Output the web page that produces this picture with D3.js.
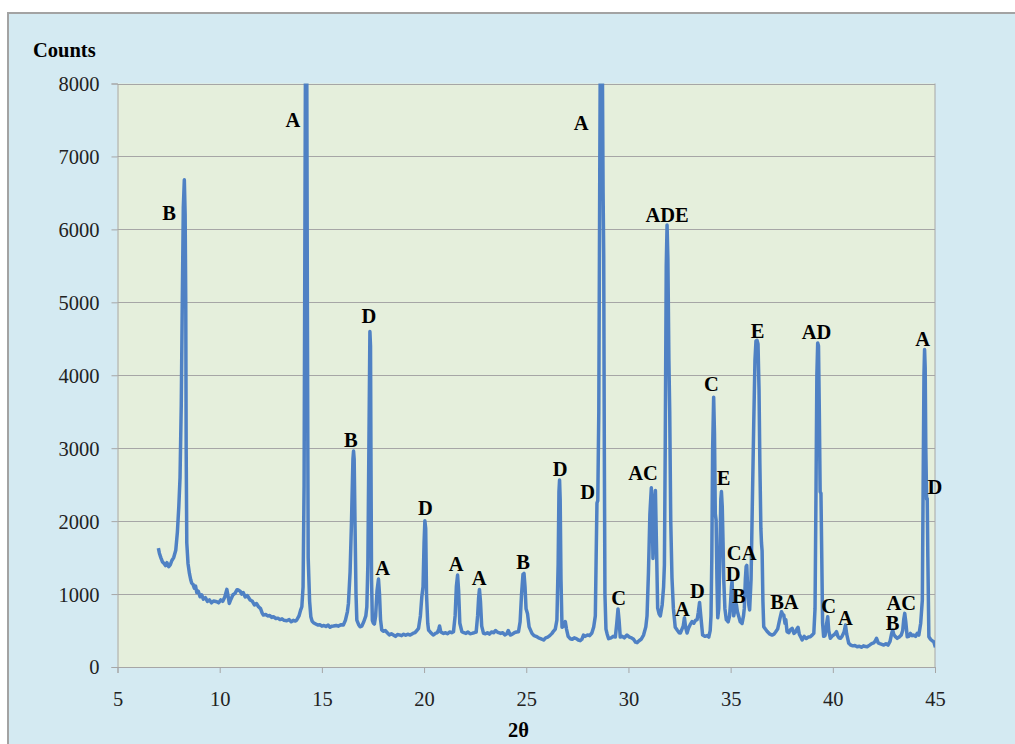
<!DOCTYPE html>
<html>
<head>
<meta charset="utf-8">
<script src="https://cdn.jsdelivr.net/npm/d3@7"></script>
<style>
  html, body { margin: 0; padding: 0; background: #ffffff; }
  svg { display: block; }
</style>
</head>
<body>
<svg id="chart" width="1015" height="744"></svg>
<script>
// ---------------- DATA ----------------
const twoTheta = [
  7.00,7.05,7.12,7.20,7.28,7.35,7.42,7.50,7.58,7.66,7.75,7.85,7.93,8.00,8.06,8.12,8.17,8.22,8.27,8.31,8.34,8.36,8.39,8.45,8.52,8.58,8.63,8.70,8.76,8.82,8.88,8.95,
  9.04,9.12,9.20,9.30,9.40,9.50,9.60,9.70,9.86,9.95,10.05,10.15,10.25,10.35,10.42,10.47,10.55,10.65,10.75,10.85,10.91,11.00,11.08,11.15,11.25,11.35,11.49,11.60,11.70,11.80,11.90,
  12.00,12.08,12.14,12.25,12.35,12.45,12.55,12.63,12.75,12.85,12.95,13.05,13.15,13.28,13.40,13.50,13.60,13.70,13.77,13.88,13.96,14.02,14.08,14.13,14.17,14.21,14.25,14.29,14.33,14.40,14.46,14.52,14.59,14.70,14.80,14.90,
  15.00,15.10,15.20,15.30,15.40,15.50,15.57,15.70,15.80,15.95,16.05,16.15,16.25,16.30,16.38,16.45,16.52,16.55,16.58,16.62,16.67,16.71,16.80,16.87,16.95,
  17.05,17.15,17.20,17.25,17.30,17.35,17.38,17.40,17.43,17.47,17.52,17.57,17.63,17.70,17.77,17.82,17.87,17.93,18.00,18.10,18.20,18.30,18.40,18.50,18.60,18.70,18.80,18.90,
  19.00,19.10,19.20,19.32,19.45,19.55,19.65,19.73,19.82,19.89,19.95,20.00,20.04,20.08,20.12,20.18,20.22,20.30,20.40,20.46,20.55,20.65,20.72,20.76,20.82,20.95,
  21.05,21.15,21.25,21.35,21.44,21.52,21.58,21.64,21.69,21.75,21.85,21.95,22.05,22.15,22.25,22.34,22.45,22.55,22.62,22.67,22.71,22.76,22.82,22.91,
  23.00,23.10,23.20,23.30,23.40,23.50,23.56,23.65,23.75,23.85,23.95,24.05,24.12,24.22,24.32,24.42,24.52,24.62,24.70,24.77,24.84,24.89,24.94,24.99,
  25.06,25.14,25.28,25.38,25.48,25.60,25.70,25.85,25.95,26.05,26.15,26.26,26.34,26.42,26.50,26.56,26.60,26.63,26.66,26.70,26.75,26.83,26.91,26.97,
  27.05,27.15,27.25,27.35,27.45,27.55,27.64,27.72,27.80,27.88,28.00,28.10,28.21,28.30,28.38,28.42,28.46,28.50,28.55,28.60,28.64,28.70,28.76,28.79,28.82,28.85,28.90,28.96,
  29.03,29.15,29.25,29.36,29.43,29.49,29.54,29.60,29.70,29.80,29.93,30.05,30.15,30.25,30.35,30.42,30.52,30.62,30.74,30.85,30.91,30.98,
  31.05,31.12,31.16,31.20,31.24,31.29,31.32,31.37,31.43,31.50,31.56,31.65,31.72,31.76,31.80,31.85,31.89,31.93,31.98,
  32.02,32.07,32.13,32.20,32.29,32.40,32.48,32.54,32.62,32.68,32.74,32.80,32.87,32.95,
  33.02,33.11,33.20,33.28,33.36,33.42,33.48,33.54,33.63,33.75,33.85,33.93,
  34.00,34.04,34.08,34.12,34.17,34.21,34.25,34.29,34.33,34.37,34.42,34.47,34.52,34.55,34.59,34.63,34.66,34.72,34.79,34.88,34.95,
  35.00,35.04,35.07,35.11,35.15,35.22,35.28,35.33,35.39,35.47,35.56,35.63,35.67,35.72,35.76,35.79,35.83,35.89,35.93,
  36.00,36.06,36.13,36.19,36.24,36.29,36.34,36.39,36.43,36.48,36.51,36.54,36.58,36.62,36.70,36.78,36.90,
  37.03,37.12,37.20,37.30,37.40,37.49,37.55,37.60,37.66,37.70,37.76,37.85,37.92,
  38.01,38.10,38.18,38.24,38.30,38.36,38.45,38.50,38.60,38.70,38.80,38.90,
  39.00,39.07,39.13,39.18,39.22,39.26,39.30,39.34,39.38,39.42,39.46,39.50,39.55,39.62,39.70,39.75,39.80,39.88,39.95,
  40.05,40.12,40.18,40.25,40.30,40.37,40.45,40.55,40.62,40.68,40.78,40.88,40.98,
  41.08,41.19,41.30,41.40,41.50,41.60,41.68,41.80,41.90,
  42.00,42.08,42.14,42.22,42.30,42.40,42.49,42.60,42.70,42.80,42.88,42.93,42.98,
  43.05,43.15,43.25,43.35,43.42,43.47,43.52,43.57,43.64,43.72,43.80,43.88,43.96,
  44.05,44.13,44.21,44.30,44.38,44.42,44.46,44.49,44.52,44.55,44.59,44.62,44.65,44.70,44.78,44.86,44.94,45.02
];
const counts = [
  1630,1560,1500,1440,1420,1390,1430,1375,1400,1460,1500,1600,1850,2200,2600,3600,5000,6300,6680,6200,5000,3000,1700,1420,1283,1200,1150,1130,1080,1110,1020,1040,
  963,990,930,950,900,920,880,905,895,880,920,900,960,1064,960,872,930,990,1010,1060,1055,1040,1000,1020,960,980,918,900,850,870,826,
  800,740,712,720,700,705,680,689,665,670,650,660,640,634,650,620,640,630,644,700,780,826,1100,2500,6000,9500,9500,5000,1500,900,689,630,607,590,575,580,
  560,570,555,575,545,560,562,570,560,580,575,640,760,872,1300,2000,2850,2960,2850,2000,1000,644,580,552,560,
  620,700,826,1400,3000,4600,4400,3000,1200,640,600,589,700,1050,1205,1000,650,507,490,500,470,440,455,438,420,445,440,430,
  450,435,450,438,460,470,500,530,700,963,1100,1700,2004,1900,1000,600,507,480,450,438,460,470,520,562,480,461,
  470,455,480,470,484,700,1100,1260,1050,600,484,470,460,480,455,461,470,480,700,950,1064,900,560,461,
  455,470,450,480,470,500,484,470,460,470,440,455,500,438,450,470,480,484,620,1000,1270,1283,1100,800,
  735,550,461,430,420,400,390,370,400,410,430,461,493,520,644,1400,2400,2563,2300,1200,544,560,623,520,
  420,388,380,400,390,370,361,380,438,420,440,430,466,550,701,1500,2248,2280,3500,7000,9500,9500,6500,5630,3000,1000,520,450,
  388,400,420,411,600,796,650,411,420,400,438,410,400,380,340,334,360,380,438,550,701,1300,
  2100,2457,2200,1488,1800,2300,2420,1700,807,730,701,850,1100,1400,3000,5500,6059,5600,4200,
  3500,2000,1226,800,544,500,470,466,520,560,675,540,466,540,
  580,623,600,640,649,750,885,700,438,420,430,411,
  500,701,1500,3000,3700,3200,2100,2012,1200,675,800,1500,2300,2405,2200,1700,1226,800,649,620,700,
  900,1100,1174,900,701,800,859,760,701,620,597,700,807,1200,1380,1393,1100,850,781,
  1200,2200,3323,4200,4470,4479,4430,3800,2800,1900,1700,1593,900,552,520,490,455,
  438,450,480,520,650,758,720,712,600,650,484,470,510,
  530,460,480,520,544,450,400,370,420,390,410,415,
  440,461,800,2500,4000,4442,4400,3500,2402,2380,1500,600,420,430,600,689,500,393,420,
  440,460,484,420,400,393,420,480,575,450,325,300,290,
  295,278,285,270,290,280,278,300,320,
  330,360,393,330,320,310,301,320,300,350,460,507,450,
  420,393,410,438,500,650,735,620,415,420,460,430,438,
  420,460,438,600,918,2500,4000,4352,4100,3000,2300,2310,1500,415,380,360,347,270
];
const xTickValues = [5, 10, 15, 20, 25, 30, 35, 40, 45];
const yTickValues = [0, 1000, 2000, 3000, 4000, 5000, 6000, 7000, 8000];
const peakNames  = ["B","A","B","D","A","D","A","A","B","D","D","A","C","AC","ADE","A","D","C","E","D","CA","B","E","BA","AD","C","A","B","AC","A","D"];
const peakTheta  = [7.52,13.58,16.42,17.30,17.98,20.06,21.57,22.70,24.84,26.66,28.00,27.69,29.52,30.71,31.89,32.64,33.37,34.06,34.66,35.12,35.54,35.40,36.32,37.63,39.20,39.80,40.62,42.93,43.35,44.40,44.99];
const peakCounts = [6223,7493,3110,4808,1352,2174,1411,1215,1442,2721,2405,7464,948,2658,6196,801,1044,3884,2589,1280,1560,979,4607,895,4593,836,674,607,881,4503,2462];

// ---------------- LAYOUT ----------------
const W = 1015, H = 744;
const plot = { left: 117.5, right: 935, top: 83.5, bottom: 667 };
const serif = '"Liberation Serif", "Times New Roman", Times, serif';

const svg = d3.select("#chart");

// chart area background
svg.append("rect")
  .attr("x", 8).attr("y", 13)
  .attr("width", W + 20).attr("height", H + 20)
  .attr("fill", "#d4eaf2")
  .attr("stroke", "#a3a3a3").attr("stroke-width", 2);

const x = d3.scaleLinear().domain([5, 45]).range([plot.left, plot.right]);
const y = d3.scaleLinear().domain([0, 8000]).range([plot.bottom, plot.top]);

// plot area
svg.append("rect")
  .attr("x", plot.left).attr("y", plot.top)
  .attr("width", plot.right - plot.left).attr("height", plot.bottom - plot.top)
  .attr("fill", "#e5efdc");

// gridlines
svg.append("g")
  .selectAll("line")
  .data(yTickValues.filter(d => d > 0))
  .join("line")
  .attr("x1", plot.left).attr("x2", plot.right)
  .attr("y1", d => Math.round(y(d)) + 0.5).attr("y2", d => Math.round(y(d)) + 0.5)
  .attr("stroke", "#a6a6a6").attr("stroke-width", 1);

// right plot border
svg.append("line")
  .attr("x1", plot.right).attr("x2", plot.right)
  .attr("y1", plot.top).attr("y2", plot.bottom)
  .attr("stroke", "#a6a6a6").attr("stroke-width", 1);

// clip
svg.append("clipPath").attr("id", "plotClip")
  .append("rect")
  .attr("x", plot.left).attr("y", plot.top)
  .attr("width", plot.right - plot.left).attr("height", plot.bottom - plot.top);

const pts = twoTheta.map((t, i) => [t, counts[i]]);
const line = d3.line().x(d => x(d[0])).y(d => y(d[1]));

svg.append("path")
  .datum(pts)
  .attr("clip-path", "url(#plotClip)")
  .attr("d", line)
  .attr("fill", "none")
  .attr("stroke", "#4f81c4")
  .attr("stroke-width", 3.5)
  .attr("stroke-linejoin", "round");

// axes
const yAxis = d3.axisLeft(y).tickValues(yTickValues).tickSize(6).tickPadding(12).tickFormat(d3.format("d"));
const gy = svg.append("g").attr("transform", `translate(${plot.left},0)`).call(yAxis);
gy.attr("font-family", serif);
gy.select(".domain").attr("stroke", "#a6a6a6");
gy.selectAll(".tick line").attr("stroke", "#a6a6a6");
gy.selectAll(".tick text")
  .attr("font-family", serif).attr("font-size", 20.5).attr("fill", "#222")
  .attr("dy", "0.34em");

const xAxis = d3.axisBottom(x).tickValues(xTickValues).tickSize(6).tickPadding(0).tickFormat(d3.format("d"));
const gx = svg.append("g").attr("transform", `translate(0,${plot.bottom})`).call(xAxis);
gx.attr("font-family", serif);
gx.select(".domain").attr("stroke", "#a6a6a6");
gx.selectAll(".tick line").attr("stroke", "#a6a6a6");
gx.selectAll(".tick text")
  .attr("font-family", serif).attr("font-size", 20.5).attr("fill", "#222")
  .attr("y", 39).attr("dy", 0);

// axis titles
svg.append("text")
  .attr("x", 33).attr("y", 57)
  .attr("font-family", serif).attr("font-size", 20.5).attr("font-weight", "bold")
  .attr("fill", "#000")
  .text("Counts");

svg.append("text")
  .attr("x", 518.5).attr("y", 737)
  .attr("text-anchor", "middle")
  .attr("font-family", serif).attr("font-size", 20.5).attr("font-weight", "bold")
  .attr("fill", "#000")
  .text("2θ");

// peak labels
svg.append("g")
  .selectAll("text")
  .data(peakNames.map((n, i) => ({ n, t: peakTheta[i], c: peakCounts[i] })))
  .join("text")
  .attr("x", d => x(d.t))
  .attr("y", d => y(d.c))
  .attr("dy", "0.34em")
  .attr("text-anchor", "middle")
  .attr("font-family", serif).attr("font-size", 20.5).attr("font-weight", "bold")
  .attr("fill", "#000")
  .text(d => d.n);
</script>
</body>
</html>
